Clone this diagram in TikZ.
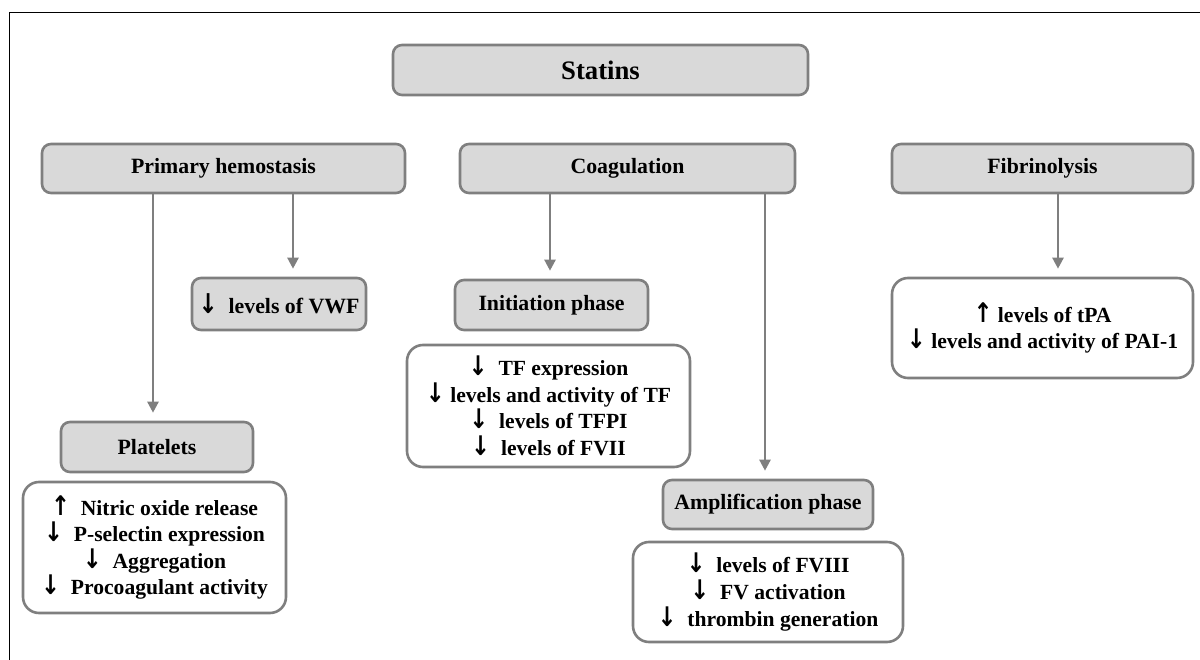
\documentclass[tikz,border=0pt]{standalone}
\usepackage{fontspec}
\setmainfont{Liberation Serif}
\newfontfamily\arrfont{DejaVu Sans}
\usetikzlibrary{arrows.meta}
\newcommand{\dnar}{\scalebox{1.05}[1.25]{\arrfont\bfseries ↓}}
\newcommand{\upar}{\scalebox{1.05}[1.25]{\arrfont\bfseries ↑}}
\definecolor{boxgray}{HTML}{D9D9D9}
\definecolor{linegray}{HTML}{7F7F7F}
\tikzset{
  headbox/.style={draw=linegray, line width=2.6pt, fill=boxgray, rounded corners=9pt,
    inner sep=0pt, font=\fontsize{21.8}{26}\selectfont\bfseries},
  listbox/.style={draw=linegray, line width=2.6pt, fill=white, rounded corners=16pt,
    inner sep=0pt, align=center, font=\fontsize{21.6}{26.6}\selectfont\bfseries},
  arr/.style={draw=linegray, line width=2.4pt, shorten >=8pt,
    -{Triangle[length=11pt,width=11pt]}},
}
\begin{document}
\begin{tikzpicture}[x=1pt,y=-1pt]
\useasboundingbox (0,0) rectangle (1200,660);
\draw[black, line width=1pt] (1200,13) -- (9,13) -- (9,660);

\node[headbox, minimum width=415pt, minimum height=50pt, font=\fontsize{26.7}{30}\selectfont\bfseries] (statins) at (600.5,70) {Statins};
\node[headbox, minimum width=363pt, minimum height=49pt] (ph) at (223.5,168.5) {Primary hemostasis};
\node[headbox, minimum width=335pt, minimum height=49pt] (coag) at (627.5,168.5) {Coagulation};
\node[headbox, minimum width=301pt, minimum height=49pt] (fib) at (1042.5,168.5) {Fibrinolysis};

\node[headbox, minimum width=174pt, minimum height=52pt] (vwf) at (279,304) {\dnar\ \ levels of VWF};
\node[headbox, minimum width=192pt, minimum height=50pt] (plt) at (157,447) {Platelets};
\node[listbox, minimum width=263pt, minimum height=131pt] (pltlist) at (154.5,547.5)
  {\upar\ \ Nitric oxide release\\ \dnar\ \ P-selectin expression\\ \dnar\ \ Aggregation\\ \dnar\ \ Procoagulant activity};

\node[headbox, minimum width=193pt, minimum height=50pt] (init) at (551.5,305) {Initiation phase};
\node[listbox, minimum width=283pt, minimum height=122pt] (tflist) at (548.5,406)
  {\dnar\ \ TF expression\\ \dnar\ levels and activity of TF\\ \dnar\ \ levels of TFPI\\ \dnar\ \ levels of FVII};

\node[headbox, minimum width=210pt, minimum height=49pt] (amp) at (768,504.5) {Amplification phase};
\node[listbox, minimum width=270pt, minimum height=100pt] (amplist) at (768,592)
  {\dnar\ \ levels of FVIII\\ \dnar\ \ FV activation\\ \dnar\ \ thrombin generation};

\node[listbox, minimum width=301pt, minimum height=100pt] (fiblist) at (1042.5,328)
  {\upar\ levels of tPA\\ \dnar\ levels and activity of PAI-1};

\draw[arr] (153,0 |- ph.south) -- (153,0 |- plt.north);
\draw[arr] (293,0 |- ph.south) -- (293,0 |- vwf.north);
\draw[arr] (550,0 |- coag.south) -- (550,0 |- init.north);
\draw[arr] (765,0 |- coag.south) -- (765,0 |- amp.north);
\draw[arr] (1058,0 |- fib.south) -- (1058,0 |- fiblist.north);
\end{tikzpicture}
\end{document}
